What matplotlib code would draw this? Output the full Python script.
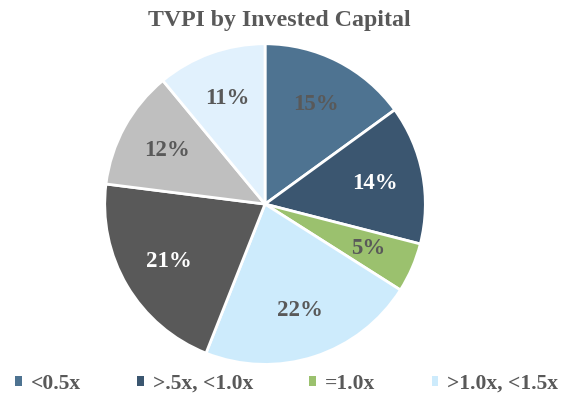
import matplotlib.pyplot as plt
from matplotlib.patches import Patch

# TVPI buckets, clockwise from 12 o'clock
categorias = ['<0.5x', '>.5x, <1.0x', '=1.0x', '>1.0x, <1.5x',
              '>1.5x, <2.0x', '>2.0x, <3.0x', '>3.0x']
porcentajes = [15, 14, 5, 22, 21, 12, 11]
colores = ['#4E7391', '#3B5670', '#9BC16E', '#CDEBFC',
           '#595959', '#BFBFBF', '#E1F1FD']
color_texto = ['#595959', '#FFFFFF', '#595959', '#595959',
               '#FFFFFF', '#595959', '#595959']

gris = '#595959'
fuente = 'Liberation Serif'

fig = plt.figure(figsize=(5.63, 3.93), dpi=100)
ax = fig.add_axes([0.183, 0.0687, 0.5755, 0.824])

wedges, textos, pcts = ax.pie(
    porcentajes, colors=colores, startangle=90, counterclock=False,
    autopct='%1.0f%%', pctdistance=0.7,
    wedgeprops=dict(edgecolor='white', linewidth=2),
    textprops=dict(fontsize=16.5, fontweight='bold', family=fuente))
for t, c in zip(pcts, color_texto):
    t.set_color(c)
ax.set_xlim(-1.01, 1.01)
ax.set_ylim(-1.01, 1.01)

fig.text(0.497, 0.948, 'TVPI by Invested Capital', ha='center', va='center',
         fontsize=17.2, fontweight='bold', color=gris, family=fuente)

# only the first four entries fit on the bottom row
handles = [Patch(facecolor=colores[i], edgecolor='none') for i in range(4)]
leg = fig.legend(handles, categorias[:4], loc='center left',
                 bbox_to_anchor=(0.027, 0.024), ncol=4, frameon=False,
                 borderpad=0, borderaxespad=0,
                 handlelength=0.3, handleheight=0.3, handletextpad=0.42,
                 columnspacing=2.62,
                 prop=dict(family=fuente, size=15.5, weight='bold'))
for t in leg.get_texts():
    t.set_color(gris)

fig.savefig('out.png', dpi=100)
